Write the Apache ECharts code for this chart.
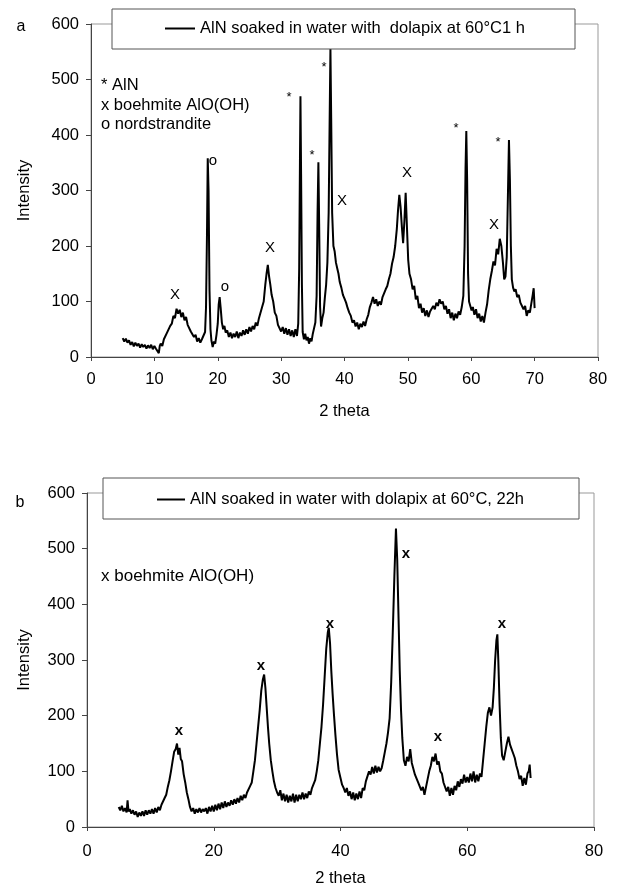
<!DOCTYPE html>
<html>
<head>
<meta charset="utf-8">
<script src="https://cdn.jsdelivr.net/npm/echarts@6/dist/echarts.min.js"></script>
<style>html,body{margin:0;padding:0;background:#fff}#c{width:618px;height:889px}</style>
</head>
<body>
<div id="c"></div>
<script>
// ---------- data ----------
var seriesNameA = 'AlN soaked in water with  dolapix at 60°C1 h';
var seriesNameB = 'AlN soaked in water with dolapix at 60°C, 22h';
var xTicksA = [0, 10, 20, 30, 40, 50, 60, 70, 80];
var xTicksB = [0, 20, 40, 60, 80];
var yTicks = [0, 100, 200, 300, 400, 500, 600];

// panel a : [2 theta, intensity]
var patternA = [
[5.00,34],[5.25,28],[5.50,33],[5.75,26],[6.00,30],[6.25,22],[6.50,27],[6.75,19],[7.00,26],[7.25,20],
[7.50,24],[7.75,17],[8.00,23],[8.25,18],[8.50,22],[8.75,15],[9.00,21],[9.25,16],[9.50,22],[9.75,14],
[10.00,20],[10.25,15],[10.50,18],[10.70,7],[10.85,20],[11.00,24],[11.25,20],[11.50,32],[11.75,30],[12.00,44],
[12.25,42],[12.50,56],[12.75,60],[13.00,74],[13.25,70],[13.50,87],[13.75,78],[14.00,85],[14.25,72],[14.50,80],
[14.75,66],[15.00,72],[15.25,58],[15.50,60],[15.75,46],[16.00,48],[16.25,36],[16.50,40],[16.75,28],[17.00,34],
[17.25,26],[17.50,32],[17.75,30],[18.00,45],[18.15,90],[18.30,220],[18.42,358],[18.55,300],[18.70,120],[18.85,50],
[19.00,30],[19.20,18],[19.40,28],[19.60,24],[19.80,40],[20.00,60],[20.15,95],[20.30,108],[20.45,90],[20.65,62],
[20.85,50],[21.05,56],[21.25,44],[21.50,48],[21.75,36],[22.00,44],[22.25,34],[22.50,42],[22.75,36],[23.00,46],
[23.25,34],[23.50,44],[23.75,38],[24.00,48],[24.25,40],[24.50,50],[24.75,42],[25.00,54],[25.25,46],[25.50,56],
[25.75,50],[26.00,62],[26.25,56],[26.50,70],[26.75,72],[27.00,90],[27.25,100],[27.50,130],[27.70,150],[27.90,166],
[28.10,145],[28.30,130],[28.50,112],[28.75,100],[29.00,80],[29.25,74],[29.50,58],[29.75,56],[30.00,46],[30.25,54],
[30.50,42],[30.75,52],[31.00,40],[31.25,50],[31.50,38],[31.75,48],[32.00,36],[32.25,50],[32.50,38],[32.70,60],
[32.85,160],[32.97,350],[33.05,470],[33.15,330],[33.28,130],[33.40,45],[33.60,32],[33.80,42],[34.00,30],[34.20,36],
[34.40,24],[34.60,34],[34.80,28],[35.00,42],[35.20,52],[35.40,62],[35.60,110],[35.75,260],[35.88,351],[36.00,240],
[36.15,90],[36.30,55],[36.50,70],[36.70,80],[36.90,107],[37.10,130],[37.30,170],[37.50,260],[37.65,420],[37.78,555],
[37.90,430],[38.05,260],[38.25,200],[38.45,190],[38.65,170],[38.85,160],[39.05,150],[39.25,135],[39.50,125],[39.75,112],
[40.00,105],[40.25,98],[40.50,88],[40.75,80],[41.00,74],[41.25,62],[41.50,66],[41.75,55],[42.00,62],[42.25,50],
[42.50,60],[42.75,54],[43.00,64],[43.25,56],[43.50,68],[43.75,76],[44.00,90],[44.25,98],[44.50,108],[44.75,96],
[45.00,104],[45.25,92],[45.50,100],[45.75,94],[46.00,108],[46.25,110],[46.50,122],[46.75,128],[47.00,140],[47.25,150],
[47.50,168],[47.75,180],[48.00,200],[48.25,230],[48.45,265],[48.65,292],[48.85,270],[49.05,235],[49.25,205],[49.45,245],
[49.65,296],[49.85,235],[50.05,175],[50.25,150],[50.50,140],[50.75,122],[51.00,128],[51.25,104],[51.50,110],[51.75,88],
[52.00,96],[52.25,80],[52.50,88],[52.75,74],[53.00,84],[53.25,72],[53.50,82],[53.75,80],[54.00,92],[54.25,86],
[54.50,98],[54.75,92],[55.00,104],[55.25,96],[55.50,100],[55.75,86],[56.00,92],[56.25,78],[56.50,86],[56.75,70],
[57.00,80],[57.25,66],[57.50,78],[57.75,70],[58.00,82],[58.25,76],[58.50,90],[58.75,110],[58.95,200],[59.10,340],
[59.22,407],[59.35,320],[59.50,150],[59.65,100],[59.85,92],[60.05,84],[60.25,90],[60.50,76],[60.75,86],[61.00,70],
[61.25,78],[61.50,64],[61.75,74],[62.00,62],[62.25,80],[62.50,95],[62.75,120],[63.00,140],[63.25,155],[63.50,172],
[63.75,165],[64.00,195],[64.25,185],[64.50,213],[64.75,200],[65.00,170],[65.20,140],[65.40,145],[65.60,180],[65.80,300],
[65.95,391],[66.10,320],[66.25,200],[66.40,140],[66.60,125],[66.80,118],[67.00,122],[67.25,108],[67.50,112],[67.75,98],
[68.00,100],[68.25,86],[68.50,92],[68.75,74],[69.00,84],[69.25,80],[69.50,98],[69.70,112],[69.85,124],[70.00,88]
];

// panel b : [2 theta, intensity]
var patternB = [
[5.00,36],[5.25,30],[5.50,38],[5.75,28],[6.00,34],[6.25,26],[6.40,48],[6.55,28],[6.75,32],[7.00,24],
[7.25,30],[7.50,22],[7.75,28],[8.00,18],[8.25,26],[8.50,20],[8.75,28],[9.00,20],[9.25,30],[9.50,22],
[9.75,30],[10.00,24],[10.25,32],[10.50,24],[10.75,34],[11.00,26],[11.25,36],[11.50,30],[11.75,40],[12.00,40],
[12.25,52],[12.50,58],[12.75,72],[13.00,84],[13.25,100],[13.50,118],[13.75,135],[14.00,140],[14.20,150],[14.40,130],
[14.60,142],[14.80,122],[15.00,118],[15.25,95],[15.50,80],[15.75,62],[16.00,50],[16.25,36],[16.50,28],[16.75,34],
[17.00,24],[17.25,32],[17.50,26],[17.75,34],[18.00,26],[18.25,32],[18.50,28],[18.75,34],[19.00,24],[19.25,36],
[19.50,28],[19.75,38],[20.00,28],[20.25,40],[20.50,30],[20.75,42],[21.00,32],[21.25,44],[21.50,34],[21.75,46],
[22.00,36],[22.25,44],[22.50,38],[22.75,48],[23.00,40],[23.25,50],[23.50,42],[23.75,52],[24.00,44],[24.25,56],
[24.50,48],[24.75,58],[25.00,52],[25.25,62],[25.50,60],[25.75,74],[26.00,80],[26.25,100],[26.50,120],[26.75,150],
[27.00,180],[27.25,210],[27.50,245],[27.75,265],[27.95,274],[28.15,250],[28.35,215],[28.55,180],[28.75,150],[29.00,120],
[29.25,100],[29.50,82],[29.75,70],[30.00,62],[30.25,56],[30.50,66],[30.75,48],[31.00,60],[31.25,46],[31.50,58],
[31.75,44],[32.00,56],[32.25,46],[32.50,60],[32.75,44],[33.00,58],[33.25,46],[33.50,58],[33.75,50],[34.00,62],
[34.25,50],[34.50,60],[34.75,52],[35.00,64],[35.25,58],[35.50,70],[35.75,70],[36.00,84],[36.25,100],[36.50,120],
[36.75,150],[37.00,180],[37.25,220],[37.50,270],[37.75,320],[38.00,350],[38.15,358],[38.35,330],[38.55,280],[38.75,240],
[38.95,205],[39.20,165],[39.45,130],[39.70,103],[40.00,88],[40.25,76],[40.50,70],[40.75,62],[41.00,70],[41.25,56],
[41.50,64],[41.75,50],[42.00,62],[42.25,48],[42.50,60],[42.75,50],[43.00,64],[43.25,52],[43.50,70],[43.75,66],
[44.00,82],[44.25,84],[44.50,100],[44.75,94],[45.00,108],[45.25,96],[45.50,110],[45.75,98],[46.00,108],[46.25,100],
[46.50,106],[46.75,120],[47.00,135],[47.25,150],[47.50,170],[47.75,195],[48.00,260],[48.25,350],[48.50,450],[48.75,536],
[48.95,480],[49.15,380],[49.35,280],[49.55,210],[49.75,160],[50.00,120],[50.25,110],[50.50,126],[50.75,118],[51.00,140],
[51.25,115],[51.50,118],[51.75,94],[52.00,96],[52.25,80],[52.50,82],[52.75,66],[53.00,72],[53.25,58],[53.50,72],
[53.75,86],[54.00,100],[54.25,110],[54.50,126],[54.75,118],[55.00,132],[55.25,112],[55.50,118],[55.75,100],[56.00,96],
[56.25,80],[56.50,78],[56.75,64],[57.00,72],[57.25,56],[57.50,70],[57.75,58],[58.00,74],[58.25,66],[58.50,82],
[58.75,72],[59.00,86],[59.25,78],[59.50,94],[59.75,80],[60.00,90],[60.25,80],[60.50,96],[60.75,82],[61.00,100],
[61.25,80],[61.50,94],[61.75,82],[62.00,96],[62.25,90],[62.50,120],[62.75,150],[63.00,180],[63.25,205],[63.50,215],
[63.75,200],[64.00,215],[64.20,250],[64.40,300],[64.60,335],[64.75,346],[64.90,300],[65.10,220],[65.30,160],[65.50,128],
[65.75,120],[66.00,135],[66.25,150],[66.50,162],[66.75,148],[67.00,140],[67.25,132],[67.50,124],[67.75,110],[68.00,100],
[68.25,86],[68.50,92],[68.75,74],[69.00,88],[69.25,76],[69.50,96],[69.70,100],[69.85,112],[70.00,88]
];

// ---------- chart ----------
var FONT = 'Liberation Sans, Arial, sans-serif';
var chart = echarts.init(document.getElementById('c'), null, {renderer: 'canvas'});

function xAxisCfg(grid, interval) {
  return {
    type: 'value', gridIndex: grid, min: 0, max: 80, interval: interval,
    name: '2 theta', nameLocation: 'middle', nameGap: grid === 0 ? 46 : 43,
    nameTextStyle: {fontSize: 16.5, color: '#000', fontFamily: FONT},
    axisLine: {show: true, lineStyle: {color: '#444', width: 1}},
    axisTick: {show: true, length: 4, lineStyle: {color: '#444'}},
    axisLabel: {fontSize: 16.5, color: '#000', fontFamily: FONT, margin: grid === 0 ? 14 : 16},
    splitLine: {show: false}
  };
}
function yAxisCfg(grid) {
  return {
    type: 'value', gridIndex: grid, min: 0, max: 600, interval: 100,
    name: 'Intensity', nameLocation: 'middle', nameGap: grid === 0 ? 58 : 54,
    nameTextStyle: {fontSize: 16.5, color: '#000', fontFamily: FONT},
    axisLine: {show: true, lineStyle: {color: '#444', width: 1}},
    axisTick: {show: true, length: 5, lineStyle: {color: '#444'}},
    axisLabel: {fontSize: 16.5, color: '#000', fontFamily: FONT, margin: 12},
    splitLine: {show: false}
  };
}

function txt(t, x, y, size, opts) {
  opts = opts || {};
  return {
    type: 'text', x: x, y: y, z: 20,
    style: {
      text: t, fill: '#000',
      font: (opts.bold ? 'bold ' : '') + size + 'px ' + FONT,
      align: opts.align || 'center', verticalAlign: 'middle'
    }
  };
}

var option = {
  backgroundColor: '#fff',
  animation: false,
  grid: [
    {left: 91, top: 24, width: 507, height: 333, show: true, borderColor: '#999', borderWidth: 1, backgroundColor: 'transparent'},
    {left: 87, top: 493, width: 507, height: 334, show: true, borderColor: '#999', borderWidth: 1, backgroundColor: 'transparent'}
  ],
  xAxis: [xAxisCfg(0, 10), xAxisCfg(1, 20)],
  yAxis: [yAxisCfg(0), yAxisCfg(1)],
  legend: [
    {data: [seriesNameA], left: 165, top: 20, padding: 0, itemWidth: 30, itemHeight: 2, itemGap: 0,
     icon: 'rect', z: 30, textStyle: {fontSize: 16.5, color: '#000', fontFamily: FONT}},
    {data: [seriesNameB], left: 157, top: 491, padding: 0, itemWidth: 28, itemHeight: 2, itemGap: 0,
     icon: 'rect', z: 30, textStyle: {fontSize: 16.5, color: '#000', fontFamily: FONT}}
  ],
  series: [
    {name: seriesNameA, type: 'line', xAxisIndex: 0, yAxisIndex: 0, data: patternA,
     showSymbol: false, symbol: 'none', lineStyle: {color: '#000', width: 2}, itemStyle: {color: '#000'}},
    {name: seriesNameB, type: 'line', xAxisIndex: 1, yAxisIndex: 1, data: patternB,
     showSymbol: false, symbol: 'none', lineStyle: {color: '#000', width: 2}, itemStyle: {color: '#000'}}
  ],
  graphic: [
    {type: 'rect', z: 10, shape: {x: 112, y: 9, width: 463, height: 40},
     style: {fill: '#fff', stroke: '#555', lineWidth: 1}},
    {type: 'rect', z: 10, shape: {x: 103, y: 478, width: 476, height: 41},
     style: {fill: '#fff', stroke: '#555', lineWidth: 1}},
    txt('a', 21, 27, 16),
    txt('* AlN', 101, 85, 16.5, {align: 'left'}),
    txt('x boehmite AlO(OH)', 101, 105, 16.5, {align: 'left'}),
    txt('o nordstrandite', 101, 124, 16.5, {align: 'left'}),
    txt('X', 175, 295, 15),
    txt('o', 213, 161, 15),
    txt('o', 225, 287, 15),
    txt('X', 270, 248, 15),
    txt('*', 289, 97, 13),
    txt('*', 312, 155, 13),
    txt('*', 324, 67, 13),
    txt('X', 342, 201, 15),
    txt('X', 407, 173, 15),
    txt('*', 456, 128, 13),
    txt('*', 498, 142, 13),
    txt('X', 494, 225, 15),
    txt('b', 20, 503, 16),
    txt('x boehmite AlO(OH)', 101, 576, 17, {align: 'left'}),
    txt('x', 179, 731, 15, {bold: true}),
    txt('x', 261, 666, 15, {bold: true}),
    txt('x', 330, 624, 15, {bold: true}),
    txt('x', 406, 554, 15, {bold: true}),
    txt('x', 438, 737, 15, {bold: true}),
    txt('x', 502, 624, 15, {bold: true})
  ]
};
chart.setOption(option);
</script>
</body>
</html>
